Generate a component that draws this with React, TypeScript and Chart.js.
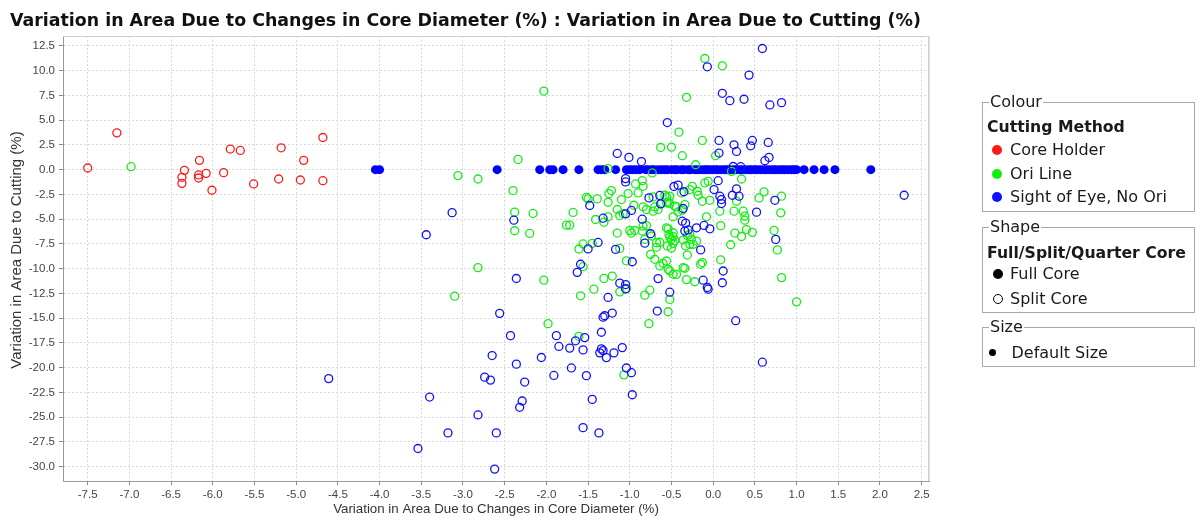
import React, { useEffect, useRef } from 'react';
import { Chart, registerables } from 'chart.js';

Chart.register(...registerables);

// ---------- data ----------
const chartTitle = 'Variation in Area Due to Changes in Core Diameter (%) : Variation in Area Due to Cutting (%)';
const xAxisTitle = 'Variation in Area Due to Changes in Core Diameter (%)';
const yAxisTitle = 'Variation in Area Due to Cutting (%)';

const xTickValues = [-7.5, -7, -6.5, -6, -5.5, -5, -4.5, -4, -3.5, -3, -2.5, -2, -1.5, -1, -0.5, 0, 0.5, 1, 1.5, 2, 2.5];
const yTickValues = [12.5, 10, 7.5, 5, 2.5, 0, -2.5, -5, -7.5, -10, -12.5, -15, -17.5, -20, -22.5, -25, -27.5, -30];

const X_MIN = -7.796;
const X_MAX = 2.588;
const Y_MIN = -31.44;
const Y_MAX = 13.5;

// Core Holder (split core, open red circles)
const coreHolderSplit: number[][] = [
  [-7.50, 0.17], [-7.15, 3.72], [-6.34, -0.07], [-6.37, -0.77], [-6.37, -1.38], [-6.16, 0.94],
  [-6.17, -0.53], [-6.17, -0.84], [-6.08, -0.37], [-6.01, -2.08], [-5.87, -0.30], [-5.79, 2.08],
  [-5.67, 1.94], [-5.51, -1.44], [-5.21, -0.94], [-5.18, 2.21], [-4.95, -1.04], [-4.91, 0.94],
  [-4.68, -1.11], [-4.68, 3.25],
];

// Ori Line (split core, open green circles)
const oriLineSplit: number[][] = [
  [-6.98, 0.30], [-3.06, -0.60], [-2.82, -0.94], [-2.34, 1.04], [-2.03, 7.94], [-2.40, -2.11],
  [-2.38, -4.29], [-2.16, -4.42], [-2.38, -6.17], [-2.20, -6.44], [-2.82, -9.89], [-3.10, -12.77],
  [-2.03, -11.16], [-1.98, -15.55],
  [-1.68, -4.32], [-1.76, -5.60], [-1.72, -5.60], [-1.52, -2.79], [-1.50, -2.95], [-1.39, -2.95],
  [-1.26, -3.29], [-1.25, -2.41], [-1.22, -2.11], [-1.26, 0.10],
  [-1.41, -5.03], [-1.31, -5.30], [-1.26, -4.76], [-1.15, -4.02], [-1.12, -4.63], [-1.08, -4.44],
  [-1.10, -3.02], [-1.02, -2.41], [-0.93, -1.44], [-0.85, -1.11], [-0.90, -2.35], [-0.95, -3.59],
  [-0.84, -3.75], [-0.80, -4.02], [-0.72, -4.19], [-0.70, -3.76], [-0.66, -4.03], [-0.62, -3.42],
  [-0.54, -3.25], [-0.52, -3.42], [-0.56, -2.74], [-0.52, -2.67], [-0.44, -3.76], [-0.42, -4.27],
  [-0.37, -4.10], [-0.34, -3.52],
  [-1.15, -6.40], [-1.00, -6.14], [-0.98, -6.40], [-0.94, -6.14], [-0.85, -6.20], [-0.80, -5.65],
  [-0.74, -6.70], [-0.82, -7.04], [-0.64, -7.33], [-0.68, -7.84], [-0.54, -5.97], [-0.52, -6.83],
  [-0.50, -7.00], [-0.48, -6.76], [-0.46, -7.16], [-0.50, -7.91],
  [-1.56, -7.50], [-1.61, -8.01], [-1.45, -7.44], [-1.56, -9.80], [-1.12, -7.95], [-1.04, -9.21],
  [-0.75, -8.55], [-0.70, -9.05], [-0.64, -9.72], [-0.60, -9.45], [-0.56, -9.22], [-0.54, -10.06],
  [-0.52, -10.23], [-0.44, -10.57], [-0.34, -9.96],
  [-1.31, -10.98], [-1.21, -10.74], [-1.59, -12.74], [-1.43, -12.07], [-1.12, -12.34], [-1.04, -12.00],
  [-0.82, -12.67], [-0.76, -12.17], [-0.52, -13.10], [-0.54, -14.35], [-0.77, -15.55], [-1.61, -16.83],
  [-1.07, -20.72], [1.00, -13.35],
  [-0.32, -11.10], [-0.22, -11.32], [0.82, -10.90], [-0.36, -9.89], [-0.48, -10.56], [-0.31, -8.62],
  [-0.13, -9.38], [-0.15, -9.55], [0.09, -9.10], [0.77, -8.10], [0.73, -6.13], [0.21, -7.58],
  [0.26, -6.40], [0.34, -6.75], [0.40, -6.05], [0.47, -6.33], [0.09, -5.65], [-0.08, -4.76],
  [-0.48, -4.76], [-0.53, -6.54], [-0.36, -7.11], [-0.26, -7.04], [-0.24, -7.54], [-0.68, -7.37],
  [-0.84, -5.70], [-0.56, -5.87], [-0.48, -6.37], [-0.55, -7.71], [-0.48, -7.44], [-0.33, -7.71],
  [-0.28, -7.54], [-0.20, -7.21], [-0.31, -6.64], [-0.28, -6.50],
  [-0.10, 11.23], [0.11, 10.49], [-0.32, 7.31], [-0.41, 3.79], [-0.13, 2.95], [-0.63, 2.24],
  [-0.50, 2.28], [-0.37, 1.41], [0.03, 1.41], [-0.21, 0.50], [0.22, -0.17], [0.34, -0.94],
  [-0.84, -1.68], [-0.25, -1.68], [-0.28, -2.01], [-0.19, -2.18], [-0.18, -2.58], [-0.38, -2.35],
  [-0.10, -1.34], [-0.06, -1.18], [-0.72, -2.75], [-0.58, -2.58], [-0.56, -3.35], [-0.46, -3.69],
  [-0.13, -3.19], [-0.04, -3.09], [0.08, -4.19], [0.25, -4.19], [0.28, -3.19], [0.36, -4.19],
  [0.38, -4.69], [0.38, -5.10], [0.55, -2.85], [0.61, -2.24], [0.82, -2.68], [0.81, -4.36],
  [-0.73, -0.33],
];

// Sight of Eye, No Ori (split core, open blue circles)
const sightSplit: number[][] = [
  [0.59, 12.24], [-0.07, 10.39], [0.43, 9.55], [0.11, 7.71], [0.20, 6.97], [0.37, 7.11],
  [0.68, 6.54], [0.82, 6.77], [-0.55, 4.76], [0.07, 2.95], [0.25, 2.51], [0.28, 1.84],
  [0.07, 1.68], [0.47, 2.95], [0.45, 2.41], [0.66, 2.75], [0.67, 1.24], [0.62, 0.91],
  [-0.86, 0.82], [-1.15, 1.64], [-1.01, 1.24], [0.33, 0.30], [0.24, 0.32],
  [-1.05, -0.90], [-1.05, -1.24], [-0.77, -2.85], [-0.64, -2.60], [-0.63, -3.45], [-1.48, -3.62],
  [-1.32, -4.90], [-1.05, -4.46], [-0.98, -4.12], [-0.85, -5.00], [-0.75, -6.47], [-0.82, -7.42],
  [-1.38, -7.35], [-1.50, -8.00], [-1.17, -8.05], [-2.39, -5.10], [-3.13, -4.34], [-3.44, -6.57],
  [-0.47, -1.70], [-0.42, -1.56], [-0.35, -2.23], [0.06, -1.11], [0.01, -2.01], [0.08, -2.68],
  [0.10, -3.02], [0.10, -3.42], [0.23, -2.58], [0.28, -1.94], [0.31, -2.68], [0.74, -3.09],
  [0.52, -4.29], [-0.36, -3.92], [-0.37, -5.20], [-0.33, -5.40], [-0.30, -6.08], [-0.34, -6.20],
  [-0.20, -5.87], [-0.11, -5.63], [-0.04, -5.97], [0.75, -7.04], [-0.15, -8.10], [2.29, -2.58],
  [0.12, -10.23], [0.11, -11.42], [-0.12, -11.16], [-0.07, -11.90], [-0.06, -12.07], [-0.66, -11.00],
  [-0.52, -12.37], [-0.67, -14.28], [0.27, -15.25], [0.59, -19.44], [-1.12, -11.46], [-1.05, -11.60],
  [-1.05, -12.05], [-1.26, -12.90], [-1.32, -14.90], [-1.30, -14.75], [-1.21, -14.48], [-1.34, -16.42],
  [-1.65, -17.28], [-1.54, -16.96], [-1.85, -17.85], [-1.72, -18.02], [-1.56, -18.20], [-1.88, -16.76],
  [-1.36, -18.50], [-1.34, -18.10], [-1.32, -18.27], [-1.28, -18.98], [-1.19, -18.50], [-1.09, -17.97],
  [-1.70, -20.02], [-1.52, -20.80], [-1.04, -20.03], [-0.98, -20.50], [-0.97, -22.73], [-1.45, -23.20],
  [-2.36, -10.99], [-2.56, -14.51], [-2.43, -16.76], [-2.65, -18.77], [-2.36, -19.64], [-2.06, -18.97],
  [-2.74, -20.95], [-2.67, -21.25], [-2.26, -21.45], [-1.91, -20.78], [-3.40, -22.96], [-2.29, -23.36],
  [-2.32, -24.00], [-2.82, -24.77], [-3.18, -26.58], [-2.60, -26.58], [-1.56, -26.05], [-1.37, -26.58],
  [-3.54, -28.16], [-2.62, -30.24], [-1.59, -9.55], [-1.63, -10.37], [-0.97, -9.30], [-4.61, -21.10],
];

// Sight of Eye, No Ori (full core, filled blue circles), all at 0 % cutting variation
const sightFullX: number[] = [
  -4.05, -4.00, -2.59, -2.08, -1.96, -1.92, -1.80, -1.61, -1.38, -1.34, -1.30, -1.17,
  -1.04, -1.00, -0.96, -0.92, -0.88,
  -0.81, -0.78, -0.74, -0.71, -0.66, -0.62, -0.58, -0.55, -0.50, -0.46, -0.43, -0.38,
  -0.35, -0.30, -0.27, -0.22, -0.19, -0.15, -0.11, -0.08, -0.05, -0.01, 0.03, 0.06,
  0.10, 0.14, 0.17, 0.21, 0.25, 0.28, 0.32, 0.35, 0.39, 0.43, 0.46, 0.50, 0.53, 0.57,
  0.61, 0.64, 0.68, 0.72, 0.75, 0.79, 0.83, 0.86, 0.90, 0.94, 0.97, 1.00,
  1.09, 1.21, 1.33, 1.46, 1.89,
];
const sightFullY = 0;

const colourTitle = 'Colour';
const colourHeading = 'Cutting Method';
const colourLabels = ['Core Holder', 'Ori Line', 'Sight of Eye, No Ori'];
const colourValues = ['#ff1a1a', '#11ee11', '#1010ff'];
const shapeTitle = 'Shape';
const shapeHeading = 'Full/Split/Quarter Core';
const shapeLabels = ['Full Core', 'Split Core'];
const sizeTitle = 'Size';
const sizeLabels = ['Default Size'];

// ---------- helpers ----------
const toPts = (arr: number[][]) => arr.map(([x, y]) => ({ x, y }));

const FONT = '"DejaVu Sans", "Noto Sans", sans-serif';
const AXIS_FONT = '"Liberation Sans", Arial, sans-serif';

const chromePlugin = {
  id: 'chrome',
  beforeDraw(chart: any) {
    const { ctx } = chart;
    ctx.save();
    ctx.fillStyle = '#ffffff';
    ctx.fillRect(0, 0, chart.width, chart.height);
    ctx.restore();
  },
  afterDraw(chart: any) {
    const { ctx, chartArea: a } = chart;
    ctx.save();
    ctx.strokeStyle = '#cfcfcf';
    ctx.lineWidth = 1;
    ctx.beginPath();
    ctx.moveTo(a.left, a.top + 0.5);
    ctx.lineTo(a.right - 0.5, a.top + 0.5);
    ctx.lineTo(a.right - 0.5, a.bottom);
    ctx.stroke();
    ctx.strokeStyle = '#e2e2e2';
    ctx.beginPath();
    ctx.moveTo(a.right + 0.5, a.top);
    ctx.lineTo(a.right + 0.5, a.bottom);
    ctx.stroke();
    // chart title
    ctx.fillStyle = '#111111';
    ctx.font = 'bold 17.4px ' + FONT;
    ctx.textBaseline = 'alphabetic';
    ctx.textAlign = 'left';
    ctx.fillText(chartTitle, 10, 25.5);
    // y axis title
    ctx.translate(17, 250);
    ctx.rotate(-Math.PI / 2);
    ctx.fillStyle = '#333333';
    ctx.font = '15px ' + AXIS_FONT;
    ctx.textAlign = 'center';
    ctx.textBaseline = 'middle';
    ctx.fillText(yAxisTitle, 0, 0);
    ctx.restore();
  },
};

const LegendText = ({ x, y, text, bold }: { x: number; y: number; text: string; bold?: boolean }) => (
  <div
    style={{
      position: 'absolute',
      left: x,
      top: y - 10,
      height: 20,
      lineHeight: '20px',
      whiteSpace: 'nowrap',
      font: (bold ? 'bold 15.7px ' : '16px ') + FONT,
      color: '#1a1a1a',
      background: 'transparent',
    }}
  >
    {text}
  </div>
);

const BoxTitle = ({ x, y, text }: { x: number; y: number; text: string }) => (
  <div
    style={{
      position: 'absolute',
      left: x,
      top: y - 10,
      height: 20,
      lineHeight: '20px',
      whiteSpace: 'nowrap',
      font: '16px ' + FONT,
      color: '#1a1a1a',
      background: '#ffffff',
      padding: '0 1px',
    }}
  >
    {text}
  </div>
);

const Box = ({ top, bottom }: { top: number; bottom: number }) => (
  <div
    style={{
      position: 'absolute',
      left: 982,
      top,
      width: 213,
      height: bottom - top,
      border: '1px solid #a8a8a8',
      boxSizing: 'border-box',
    }}
  />
);

const Dot = ({ x, y, r, color, open }: { x: number; y: number; r: number; color: string; open?: boolean }) => (
  <div
    style={{
      position: 'absolute',
      left: x - r,
      top: y - r,
      width: r * 2,
      height: r * 2,
      borderRadius: '50%',
      boxSizing: 'border-box',
      background: open ? '#ffffff' : color,
      border: open ? '1.2px solid ' + color : 'none',
    }}
  />
);

export default function App() {
  const canvasRef = useRef<HTMLCanvasElement | null>(null);

  useEffect(() => {
    if (!canvasRef.current) return;
    const openStyle = (c: string) => ({
      pointRadius: 4,
      pointBorderWidth: 1.3,
      pointBorderColor: c,
      pointBackgroundColor: 'rgba(0,0,0,0)',
      pointStyle: 'circle' as const,
      showLine: false,
    });
    const chart = new Chart(canvasRef.current, {
      type: 'scatter',
      data: {
        datasets: [
          { label: 'Core Holder / Split Core', data: toPts(coreHolderSplit), ...openStyle(colourValues[0]) },
          { label: 'Sight of Eye, No Ori / Split Core', data: toPts(sightSplit), ...openStyle(colourValues[2]) },
          { label: 'Ori Line / Split Core', data: toPts(oriLineSplit), ...openStyle(colourValues[1]) },
          {
            label: 'Sight of Eye, No Ori / Full Core',
            data: sightFullX.map((x) => ({ x, y: sightFullY })),
            pointRadius: 4.5,
            pointBorderWidth: 0,
            pointBackgroundColor: '#0000ff',
            pointBorderColor: '#0000ff',
            showLine: false,
          },
        ],
      },
      options: {
        responsive: false,
        animation: false,
        events: [],
        layout: { padding: { left: 0, right: 270, top: 36, bottom: 0 } },
        plugins: {
          legend: { display: false },
          tooltip: { enabled: false },
          title: { display: false },
        },
        scales: {
          x: {
            type: 'linear',
            min: X_MIN,
            max: X_MAX,
            afterFit: (s: any) => {
              s.height = 36;
            },
            afterBuildTicks: (s: any) => {
              s.ticks = xTickValues.map((v) => ({ value: v }));
            },
            ticks: {
              callback: (v: any) => Number(v).toFixed(1),
              font: { family: AXIS_FONT, size: 11.5 },
              color: '#444444',
              padding: 3,
              maxRotation: 0,
              autoSkip: false,
              includeBounds: false,
            },
            grid: { color: '#d9d9d9', lineWidth: 1, tickLength: 4, tickColor: '#888888', tickWidth: 1 },
            border: { color: '#9a9a9a', width: 1, dash: [2, 2] },
            title: {
              display: true,
              text: xAxisTitle,
              font: { family: AXIS_FONT, size: 13.3 },
              color: '#333333',
              padding: { top: 0, bottom: 0 },
            },
          },
          y: {
            type: 'linear',
            min: Y_MIN,
            max: Y_MAX,
            afterFit: (s: any) => {
              s.width = 63;
            },
            afterBuildTicks: (s: any) => {
              s.ticks = yTickValues.map((v) => ({ value: v }));
            },
            ticks: {
              callback: (v: any) => Number(v).toFixed(1),
              font: { family: AXIS_FONT, size: 11.5 },
              color: '#444444',
              padding: 4,
              autoSkip: false,
              includeBounds: false,
            },
            grid: { color: '#d9d9d9', lineWidth: 1, tickLength: 4, tickColor: '#888888', tickWidth: 1 },
            border: { color: '#9a9a9a', width: 1, dash: [2, 2] },
            title: { display: false },
          },
        },
      },
      plugins: [chromePlugin],
    } as any);
    return () => chart.destroy();
  }, []);

  const colourRows = [150, 173.5, 197.3];
  const shapeRows = [274.3, 299];

  return (
    <div style={{ position: 'absolute', left: 0, top: 0, width: 1199, height: 517, background: '#ffffff', overflow: 'hidden' }}>
      <canvas ref={canvasRef} width={1199} height={517} style={{ position: 'absolute', left: 0, top: 0, width: 1199, height: 517 }} />

      <Box top={102} bottom={212} />
      <BoxTitle x={989} y={102} text={colourTitle} />
      <LegendText x={987} y={126.7} text={colourHeading} bold />
      {colourLabels.map((t, i) => (
        <React.Fragment key={t}>
          <Dot x={997} y={colourRows[i]} r={5} color={colourValues[i]} />
          <LegendText x={1010} y={colourRows[i]} text={t} />
        </React.Fragment>
      ))}

      <Box top={227} bottom={313} />
      <BoxTitle x={989} y={227} text={shapeTitle} />
      <LegendText x={987} y={252.7} text={shapeHeading} bold />
      <Dot x={997.5} y={shapeRows[0]} r={5} color="#000000" />
      <LegendText x={1010} y={shapeRows[0]} text={shapeLabels[0]} />
      <Dot x={997.5} y={shapeRows[1]} r={5} color="#000000" open />
      <LegendText x={1010} y={shapeRows[1]} text={shapeLabels[1]} />

      <Box top={327} bottom={367} />
      <BoxTitle x={989} y={327} text={sizeTitle} />
      <Dot x={992.5} y={352.7} r={3.5} color="#000000" />
      <LegendText x={1011.5} y={352.7} text={sizeLabels[0]} />
    </div>
  );
}
